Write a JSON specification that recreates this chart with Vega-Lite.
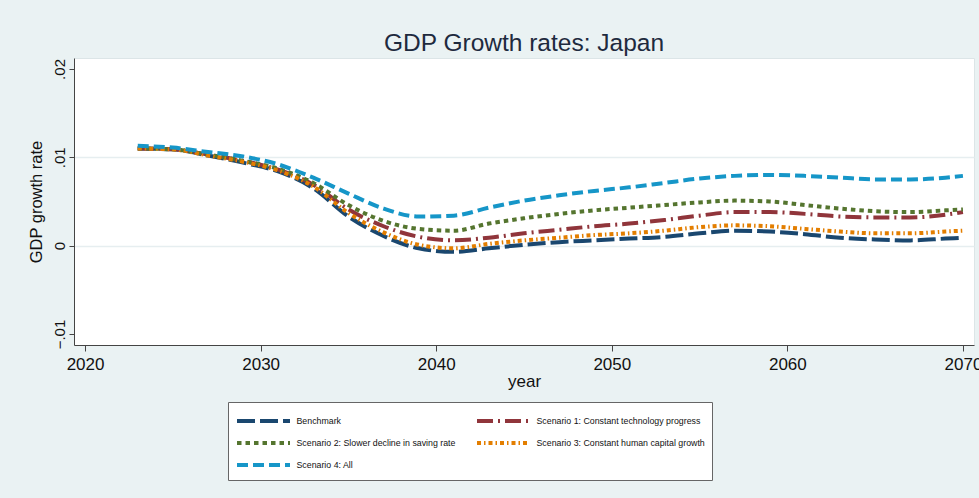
{
  "$schema": "https://vega.github.io/schema/vega-lite/v6.json",
  "width": 900,
  "height": 287,
  "autosize": {"type": "none"},
  "padding": {"left": 74, "top": 58, "right": 5, "bottom": 153},
  "background": "#eaf2f3",
  "title": {"text": "GDP Growth rates: Japan", "fontSize": 24.5, "font": "Liberation Sans", "fontWeight": "normal", "color": "#1e2a3e", "anchor": "middle", "offset": 2},
  "config": {
    "view": {"fill": "white", "stroke": "#dce5e7", "strokeWidth": 1},
    "font": "Liberation Sans"
  },
  "data": {"values": [
    {"year":2023,"scenario":"Benchmark","gdp":0.0110},{"year":2025,"scenario":"Benchmark","gdp":0.0109},{"year":2027,"scenario":"Benchmark","gdp":0.0102},{"year":2029,"scenario":"Benchmark","gdp":0.0094},{"year":2031,"scenario":"Benchmark","gdp":0.0084},{"year":2033,"scenario":"Benchmark","gdp":0.0065},{"year":2035,"scenario":"Benchmark","gdp":0.0033},{"year":2037,"scenario":"Benchmark","gdp":0.0011},{"year":2039,"scenario":"Benchmark","gdp":-0.0003},{"year":2041,"scenario":"Benchmark","gdp":-0.0007},{"year":2043,"scenario":"Benchmark","gdp":-0.0003},{"year":2045,"scenario":"Benchmark","gdp":0.0001},{"year":2047,"scenario":"Benchmark","gdp":0.0004},{"year":2049,"scenario":"Benchmark","gdp":0.0006},{"year":2051,"scenario":"Benchmark","gdp":0.0008},{"year":2053,"scenario":"Benchmark","gdp":0.0010},{"year":2055,"scenario":"Benchmark","gdp":0.0014},{"year":2057,"scenario":"Benchmark","gdp":0.0017},{"year":2059,"scenario":"Benchmark","gdp":0.0016},{"year":2061,"scenario":"Benchmark","gdp":0.0013},{"year":2063,"scenario":"Benchmark","gdp":0.0009},{"year":2065,"scenario":"Benchmark","gdp":0.0007},{"year":2067,"scenario":"Benchmark","gdp":0.0006},{"year":2069,"scenario":"Benchmark","gdp":0.0008},{"year":2070,"scenario":"Benchmark","gdp":0.0009},
    {"year":2023,"scenario":"Scenario 1: Constant technology progress","gdp":0.0110},{"year":2025,"scenario":"Scenario 1: Constant technology progress","gdp":0.0109},{"year":2027,"scenario":"Scenario 1: Constant technology progress","gdp":0.0103},{"year":2029,"scenario":"Scenario 1: Constant technology progress","gdp":0.0096},{"year":2031,"scenario":"Scenario 1: Constant technology progress","gdp":0.0086},{"year":2033,"scenario":"Scenario 1: Constant technology progress","gdp":0.0069},{"year":2035,"scenario":"Scenario 1: Constant technology progress","gdp":0.0041},{"year":2037,"scenario":"Scenario 1: Constant technology progress","gdp":0.0022},{"year":2039,"scenario":"Scenario 1: Constant technology progress","gdp":0.0010},{"year":2041,"scenario":"Scenario 1: Constant technology progress","gdp":0.0006},{"year":2043,"scenario":"Scenario 1: Constant technology progress","gdp":0.0009},{"year":2045,"scenario":"Scenario 1: Constant technology progress","gdp":0.0014},{"year":2047,"scenario":"Scenario 1: Constant technology progress","gdp":0.0018},{"year":2049,"scenario":"Scenario 1: Constant technology progress","gdp":0.0022},{"year":2051,"scenario":"Scenario 1: Constant technology progress","gdp":0.0025},{"year":2053,"scenario":"Scenario 1: Constant technology progress","gdp":0.0029},{"year":2055,"scenario":"Scenario 1: Constant technology progress","gdp":0.0034},{"year":2057,"scenario":"Scenario 1: Constant technology progress","gdp":0.0038},{"year":2059,"scenario":"Scenario 1: Constant technology progress","gdp":0.0038},{"year":2061,"scenario":"Scenario 1: Constant technology progress","gdp":0.0036},{"year":2063,"scenario":"Scenario 1: Constant technology progress","gdp":0.0033},{"year":2065,"scenario":"Scenario 1: Constant technology progress","gdp":0.0032},{"year":2067,"scenario":"Scenario 1: Constant technology progress","gdp":0.0032},{"year":2069,"scenario":"Scenario 1: Constant technology progress","gdp":0.0035},{"year":2070,"scenario":"Scenario 1: Constant technology progress","gdp":0.0038},
    {"year":2023,"scenario":"Scenario 2: Slower decline in saving rate","gdp":0.0110},{"year":2025,"scenario":"Scenario 2: Slower decline in saving rate","gdp":0.0109},{"year":2027,"scenario":"Scenario 2: Slower decline in saving rate","gdp":0.0103},{"year":2029,"scenario":"Scenario 2: Slower decline in saving rate","gdp":0.0096},{"year":2031,"scenario":"Scenario 2: Slower decline in saving rate","gdp":0.0087},{"year":2033,"scenario":"Scenario 2: Slower decline in saving rate","gdp":0.0071},{"year":2035,"scenario":"Scenario 2: Slower decline in saving rate","gdp":0.0046},{"year":2037,"scenario":"Scenario 2: Slower decline in saving rate","gdp":0.0028},{"year":2039,"scenario":"Scenario 2: Slower decline in saving rate","gdp":0.0019},{"year":2041,"scenario":"Scenario 2: Slower decline in saving rate","gdp":0.0017},{"year":2043,"scenario":"Scenario 2: Slower decline in saving rate","gdp":0.0025},{"year":2045,"scenario":"Scenario 2: Slower decline in saving rate","gdp":0.0031},{"year":2047,"scenario":"Scenario 2: Slower decline in saving rate","gdp":0.0036},{"year":2049,"scenario":"Scenario 2: Slower decline in saving rate","gdp":0.0040},{"year":2051,"scenario":"Scenario 2: Slower decline in saving rate","gdp":0.0043},{"year":2053,"scenario":"Scenario 2: Slower decline in saving rate","gdp":0.0046},{"year":2055,"scenario":"Scenario 2: Slower decline in saving rate","gdp":0.0049},{"year":2057,"scenario":"Scenario 2: Slower decline in saving rate","gdp":0.0051},{"year":2059,"scenario":"Scenario 2: Slower decline in saving rate","gdp":0.0050},{"year":2061,"scenario":"Scenario 2: Slower decline in saving rate","gdp":0.0046},{"year":2063,"scenario":"Scenario 2: Slower decline in saving rate","gdp":0.0042},{"year":2065,"scenario":"Scenario 2: Slower decline in saving rate","gdp":0.0039},{"year":2067,"scenario":"Scenario 2: Slower decline in saving rate","gdp":0.0038},{"year":2069,"scenario":"Scenario 2: Slower decline in saving rate","gdp":0.0040},{"year":2070,"scenario":"Scenario 2: Slower decline in saving rate","gdp":0.0041},
    {"year":2023,"scenario":"Scenario 3: Constant human capital growth","gdp":0.0110},{"year":2025,"scenario":"Scenario 3: Constant human capital growth","gdp":0.0109},{"year":2027,"scenario":"Scenario 3: Constant human capital growth","gdp":0.0102},{"year":2029,"scenario":"Scenario 3: Constant human capital growth","gdp":0.0095},{"year":2031,"scenario":"Scenario 3: Constant human capital growth","gdp":0.0085},{"year":2033,"scenario":"Scenario 3: Constant human capital growth","gdp":0.0067},{"year":2035,"scenario":"Scenario 3: Constant human capital growth","gdp":0.0037},{"year":2037,"scenario":"Scenario 3: Constant human capital growth","gdp":0.0015},{"year":2039,"scenario":"Scenario 3: Constant human capital growth","gdp":0.0001},{"year":2041,"scenario":"Scenario 3: Constant human capital growth","gdp":-0.0003},{"year":2043,"scenario":"Scenario 3: Constant human capital growth","gdp":0.0002},{"year":2045,"scenario":"Scenario 3: Constant human capital growth","gdp":0.0006},{"year":2047,"scenario":"Scenario 3: Constant human capital growth","gdp":0.0009},{"year":2049,"scenario":"Scenario 3: Constant human capital growth","gdp":0.0012},{"year":2051,"scenario":"Scenario 3: Constant human capital growth","gdp":0.0014},{"year":2053,"scenario":"Scenario 3: Constant human capital growth","gdp":0.0017},{"year":2055,"scenario":"Scenario 3: Constant human capital growth","gdp":0.0021},{"year":2057,"scenario":"Scenario 3: Constant human capital growth","gdp":0.0023},{"year":2059,"scenario":"Scenario 3: Constant human capital growth","gdp":0.0022},{"year":2061,"scenario":"Scenario 3: Constant human capital growth","gdp":0.0019},{"year":2063,"scenario":"Scenario 3: Constant human capital growth","gdp":0.0016},{"year":2065,"scenario":"Scenario 3: Constant human capital growth","gdp":0.0014},{"year":2067,"scenario":"Scenario 3: Constant human capital growth","gdp":0.0014},{"year":2069,"scenario":"Scenario 3: Constant human capital growth","gdp":0.0016},{"year":2070,"scenario":"Scenario 3: Constant human capital growth","gdp":0.0017},
    {"year":2023,"scenario":"Scenario 4: All","gdp":0.0113},{"year":2025,"scenario":"Scenario 4: All","gdp":0.0111},{"year":2027,"scenario":"Scenario 4: All","gdp":0.0106},{"year":2029,"scenario":"Scenario 4: All","gdp":0.0101},{"year":2031,"scenario":"Scenario 4: All","gdp":0.0092},{"year":2033,"scenario":"Scenario 4: All","gdp":0.0077},{"year":2035,"scenario":"Scenario 4: All","gdp":0.0059},{"year":2037,"scenario":"Scenario 4: All","gdp":0.0042},{"year":2039,"scenario":"Scenario 4: All","gdp":0.0033},{"year":2041,"scenario":"Scenario 4: All","gdp":0.0034},{"year":2043,"scenario":"Scenario 4: All","gdp":0.0043},{"year":2045,"scenario":"Scenario 4: All","gdp":0.0051},{"year":2047,"scenario":"Scenario 4: All","gdp":0.0057},{"year":2049,"scenario":"Scenario 4: All","gdp":0.0062},{"year":2051,"scenario":"Scenario 4: All","gdp":0.0066},{"year":2053,"scenario":"Scenario 4: All","gdp":0.0071},{"year":2055,"scenario":"Scenario 4: All","gdp":0.0076},{"year":2057,"scenario":"Scenario 4: All","gdp":0.0079},{"year":2059,"scenario":"Scenario 4: All","gdp":0.0080},{"year":2061,"scenario":"Scenario 4: All","gdp":0.0079},{"year":2063,"scenario":"Scenario 4: All","gdp":0.0077},{"year":2065,"scenario":"Scenario 4: All","gdp":0.0075},{"year":2067,"scenario":"Scenario 4: All","gdp":0.0075},{"year":2069,"scenario":"Scenario 4: All","gdp":0.0077},{"year":2070,"scenario":"Scenario 4: All","gdp":0.0079}
  ]},
  "mark": {"type": "line", "strokeWidth": 4, "interpolate": "monotone", "strokeCap": "butt"},
  "encoding": {
    "x": {
      "field": "year", "type": "quantitative",
      "scale": {"domain": [2019.37, 2070.63], "nice": false, "zero": false},
      "axis": {
        "title": "year", "values": [2020, 2030, 2040, 2050, 2060, 2070], "format": "d",
        "grid": false, "domainColor": "#444", "tickColor": "#444", "tickSize": 6,
        "labelFontSize": 17, "labelColor": "#111", "labelPadding": 5, "labelFont": "Liberation Sans",
        "titleFontSize": 17, "titleFontWeight": "normal", "titleColor": "#111", "titlePadding": 1, "titleFont": "Liberation Sans"
      }
    },
    "y": {
      "field": "gdp", "type": "quantitative",
      "scale": {"domain": [-0.01124, 0.02124], "nice": false, "zero": false},
      "axis": {
        "title": "GDP growth rate", "values": [-0.01, 0, 0.01, 0.02],
        "labelExpr": "datum.value == 0 ? '0' : replace(format(datum.value, '.2f'), '0.', '.')",
        "labelAngle": -90, "labelAlign": "center", "labelBaseline": "bottom",
        "grid": true, "gridColor": "#e6eef0", "gridWidth": 1.5,
        "gridOpacity": {"condition": {"test": "datum.value > -0.005 && datum.value < 0.015", "value": 1}, "value": 0},
        "domainColor": "#444", "tickColor": "#444", "tickSize": 5,
        "labelFontSize": 15, "labelColor": "#111", "labelPadding": 2, "labelFont": "Liberation Sans",
        "titleFontSize": 16.5, "titleFontWeight": "normal", "titleColor": "#111", "titlePadding": 8, "titleFont": "Liberation Sans"
      }
    },
    "color": {
      "field": "scenario", "type": "nominal",
      "scale": {"domain": ["Benchmark", "Scenario 1: Constant technology progress", "Scenario 2: Slower decline in saving rate", "Scenario 3: Constant human capital growth", "Scenario 4: All"],
                "range": ["#1a476f", "#90353b", "#55752f", "#e37e00", "#1696c8"]},
      "legend": {
        "title": null, "orient": "none", "legendX": 154, "legendY": 344, "direction": "horizontal", "columns": 2,
        "fillColor": "white", "strokeColor": "#666", "padding": 7,
        "symbolType": "M-2.65,0H2.65", "symbolSize": 400, "symbolStrokeWidth": 4, "symbolOffset": 16.5,
        "labelFontSize": 8.8, "labelFont": "Liberation Sans", "labelColor": "#111", "labelOffset": 21,
        "rowPadding": 2, "columnPadding": 13, "labelLimit": 300
      }
    },
    "strokeDash": {
      "field": "scenario", "type": "nominal",
      "scale": {"domain": ["Benchmark", "Scenario 1: Constant technology progress", "Scenario 2: Slower decline in saving rate", "Scenario 3: Constant human capital growth", "Scenario 4: All"],
                "range": [[18, 5], [16, 5, 2, 5], [4.5, 4], [4, 3, 1.5, 3], [11, 5]]},
      "legend": {
        "title": null, "orient": "none", "legendX": 154, "legendY": 344, "direction": "horizontal", "columns": 2,
        "fillColor": "white", "strokeColor": "#666", "padding": 7,
        "symbolType": "M-2.65,0H2.65", "symbolSize": 400, "symbolStrokeWidth": 4, "symbolOffset": 16.5,
        "labelFontSize": 8.8, "labelFont": "Liberation Sans", "labelColor": "#111", "labelOffset": 21,
        "rowPadding": 2, "columnPadding": 13, "labelLimit": 300
      }
    }
  }
}
